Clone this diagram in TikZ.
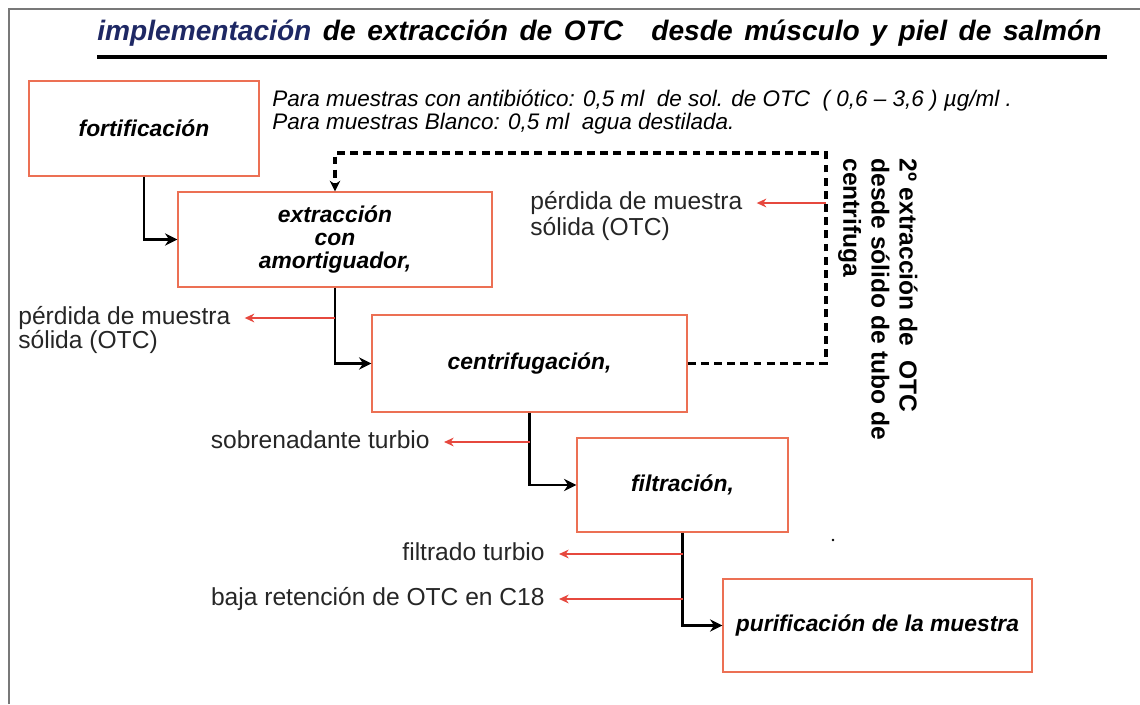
\documentclass[tikz,border=0pt]{standalone}
\usepackage{fontspec}
\setmainfont{Liberation Sans}
\usepackage{tikz}
\usetikzlibrary{arrows.meta,positioning}
\definecolor{boxline}{RGB}{236,112,84}
\definecolor{lossred}{RGB}{230,72,62}
\definecolor{titleblue}{RGB}{30,40,100}
\definecolor{framegray}{RGB}{120,120,120}
\tikzset{
  stepbox/.style={draw=boxline, line width=0.8pt, minimum height=1.9cm, inner sep=2pt, align=center, font=\fontsize{13}{13}\selectfont\bfseries\itshape},
  lbl/.style={inner sep=0pt, text height=10pt, text depth=3pt, font=\fontsize{14}{14}\selectfont, text=black!85},
  flow/.style={line width=1.4pt, -{Stealth[length=7pt,width=7pt]}},
  loss/.style={lossred, line width=0.8pt, shorten >=8pt, -{Stealth[length=5.5pt,width=5pt]}},
  back/.style={line width=2pt, dash pattern=on 4.5pt off 3pt, -{Stealth[length=6pt,width=6pt]}},
}

\begin{document}
\begin{tikzpicture}[x=0.02cm, y=-0.02cm]
\useasboundingbox (0,0) rectangle (1140,704);
% frame
\draw[framegray, line width=0.6pt] (9,704) -- (9,9) -- (1140,9);
% title
\node[anchor=base west, inner sep=0pt, font=\fontsize{16}{16}\selectfont\bfseries\itshape] (title) at (97,40) {\spaceskip=6.6pt\textcolor{titleblue}{implementación} de extracción de OTC\quad desde músculo y piel de salmón};
\draw[line width=2.2pt] (97,57) -- (1107,57);
% steps
\node[stepbox, minimum width=4.6cm] (fort) at (144,128.5) {fortificación};
\node[stepbox, minimum width=6.28cm] (ext) at (335,239.5) {extracción\\con\\amortiguador,};
\node[stepbox, minimum width=6.3cm, minimum height=1.94cm] (cent) at (529.5,363.5) {centrifugación,};
\node[stepbox, minimum width=4.22cm, minimum height=1.88cm] (filt) at (682.5,485) {filtración,};
\node[stepbox, minimum width=6.18cm, minimum height=1.86cm] (puri) at (877.5,625.5) {purificación de la muestra};
% dose note
\node[anchor=north west, inner sep=0pt, align=left, font=\fontsize{12.8}{11.4}\selectfont\itshape] (dose) at (272,90) {Para muestras con antibiótico: 0,5 ml\ \ de sol. de OTC\ \ ( 0,6 – 3,6 ) µg/ml .\\Para muestras Blanco: 0,5 ml\ \ agua destilada.};
% second extraction
\node[rotate=-90, anchor=north west, inner sep=0pt, align=left, font=\fontsize{14}{16}\selectfont\bfseries] (second) at (918,158) {2º extracción de\ \ OTC\\desde sólido de tubo de\\centrifuga};
% losses
\node[lbl, anchor=west] (lossL) at (18,318) {pérdida de muestra};
\node[lbl, anchor=west] (lossLb) at (18,342) {sólida (OTC)};
\node[lbl, anchor=west] (lossR) at (530,203) {pérdida de muestra};
\node[lbl, anchor=west] (lossRb) at (530,229) {sólida (OTC)};
\node[lbl, anchor=east] (turbid) at (430,442) {sobrenadante turbio};
\node[lbl, anchor=east] (filtrate) at (545,554) {filtrado turbio};
\node[lbl, anchor=east] (c18) at (545,599) {baja retención de OTC en C18};
% main flow
\draw[flow] (fort.south) |- (ext.west);
\draw[flow] (ext.south) |- (cent.west);
\draw[flow] (cent.south) |- (filt.west);
\draw[flow] (filt.south) |- (puri.west);
% return loop
\coordinate (loopcorner) at (826,153);
\draw[back] (cent.east) -| (loopcorner) -| (ext.north);
% red side arrows
\draw[loss] (loopcorner |- lossR.east) -- (lossR.east);
\draw[loss] (ext.south |- lossL.east) -- (lossL.east);
\draw[loss] (cent.south |- turbid.east) -- (turbid.east);
\draw[loss] (filt.south |- filtrate.east) -- (filtrate.east);
\draw[loss] (filt.south |- c18.east) -- (c18.east);
\fill (833,540) circle[radius=0.8pt];
\end{tikzpicture}
\end{document}
